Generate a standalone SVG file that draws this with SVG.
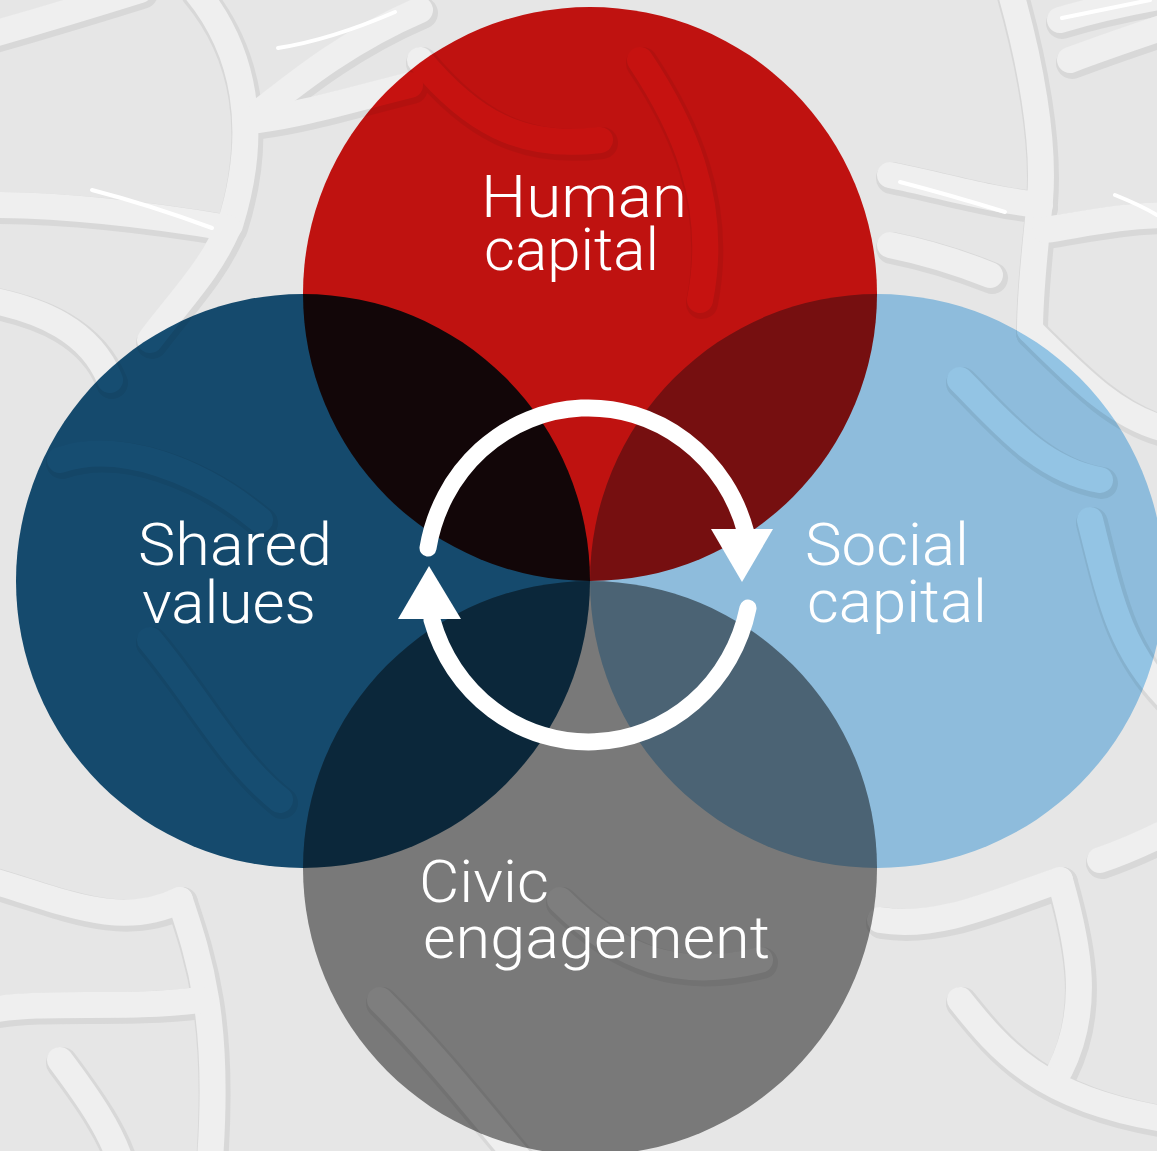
<svg xmlns="http://www.w3.org/2000/svg" width="1157" height="1151" viewBox="0 0 1157 1151">
  <defs>
    <style>
      .ridge-sh { fill: none; stroke: #d8d8d8; stroke-width: 32; stroke-linecap: round; stroke-linejoin: round; }
      .ridge { fill: none; stroke: #efefef; stroke-width: 26; stroke-linecap: round; stroke-linejoin: round; }
      .gloss { fill: none; stroke: #ffffff; stroke-width: 4; stroke-linecap: round; }
      .disc { mix-blend-mode: multiply; }
      .label { font-family: Roboto, "Liberation Sans", sans-serif; font-size: 60px; font-weight: 300; fill: #ffffff; }
      .ring { fill: none; stroke: #ffffff; stroke-width: 17; stroke-linecap: round; }
      .head { fill: #ffffff; }
    </style>
    <g id="ridges">
      <!-- top left -->
      <path d="M -10 35 Q 60 15 140 -10"/>
      <path d="M 195 -10 C 245 50 260 130 230 225"/>
      <path d="M -10 205 C 60 205 150 215 228 228"/>
      <path d="M 228 228 C 210 270 180 300 150 340"/>
      <path d="M 262 110 C 300 80 350 40 420 10"/>
      <path d="M 258 120 C 300 115 350 100 410 85"/>
      <path d="M -10 300 C 40 310 90 330 110 380"/>
      <!-- top right -->
      <path d="M 1010 -10 C 1030 60 1045 140 1040 200 C 1035 250 1030 290 1030 330"/>
      <path d="M 1060 20 Q 1110 5 1170 -5"/>
      <path d="M 1070 60 Q 1110 45 1170 25"/>
      <path d="M 890 175 C 940 185 990 200 1040 205"/>
      <path d="M 1045 230 C 1080 225 1120 215 1170 215"/>
      <path d="M 890 245 Q 940 255 990 275"/>
      <!-- middle band -->
      <path d="M 960 380 C 1000 420 1040 470 1100 480"/>
      <path d="M 1030 330 C 1080 380 1120 420 1170 430"/>
      <path d="M 1090 520 C 1110 600 1120 650 1170 700"/>
      <path d="M 60 460 C 120 440 200 470 260 520"/>
      <path d="M 150 640 C 200 700 230 760 280 800"/>
      <path d="M 420 60 C 470 120 520 150 600 140"/>
      <path d="M 640 60 C 680 120 720 200 700 300"/>
      <path d="M 560 900 C 620 960 680 980 760 960"/>
      <path d="M 380 1000 C 430 1050 470 1100 520 1160"/>
      <!-- bottom left -->
      <path d="M -10 880 C 60 900 120 930 180 900"/>
      <path d="M 180 900 C 200 960 220 1020 210 1160"/>
      <path d="M -10 1010 C 50 1000 120 1010 200 1000"/>
      <path d="M 60 1060 C 90 1100 110 1130 120 1160"/>
      <!-- bottom right -->
      <path d="M 880 920 C 940 930 1000 900 1060 880"/>
      <path d="M 1060 880 C 1080 950 1090 1010 1060 1070"/>
      <path d="M 960 1000 C 1000 1050 1040 1100 1170 1120"/>
      <path d="M 1100 860 C 1130 850 1150 840 1170 830"/>
    </g>
  </defs>

  <!-- textured backdrop -->
  <rect width="1157" height="1151" fill="#e6e6e6"/>
  <use href="#ridges" class="ridge-sh" transform="translate(2 3)"/>
  <use href="#ridges" class="ridge"/>
  <g class="gloss">
    <path d="M 92 190 Q 150 205 212 228"/>
    <path d="M 278 48 Q 330 40 395 12"/>
    <path d="M 1062 18 Q 1110 8 1150 0"/>
    <path d="M 900 182 Q 950 195 1005 212"/>
    <path d="M 1115 195 Q 1140 205 1157 215"/>
  </g>

  <!-- nodes -->
  <g id="node-human-capital">
    <circle class="disc" cx="590" cy="294" r="287" fill="#d41311"/>
    <text class="label"><tspan x="481" y="217" textLength="206" lengthAdjust="spacingAndGlyphs">Human</tspan><tspan x="484" y="270" textLength="175" lengthAdjust="spacingAndGlyphs">capital</tspan></text>
  </g>
  <g id="node-shared-values">
    <circle class="disc" cx="303" cy="581" r="287" fill="#175279"/>
    <text class="label"><tspan x="138" y="565" textLength="194" lengthAdjust="spacingAndGlyphs">Shared</tspan><tspan x="142" y="623" textLength="174" lengthAdjust="spacingAndGlyphs">values</tspan></text>
  </g>
  <g id="node-social-capital">
    <circle class="disc" cx="877" cy="581" r="287" fill="#9dd1f4"/>
    <text class="label"><tspan x="805" y="565" textLength="164" lengthAdjust="spacingAndGlyphs">Social</tspan><tspan x="807" y="622" textLength="180" lengthAdjust="spacingAndGlyphs">capital</tspan></text>
  </g>
  <g id="node-civic-engagement">
    <circle class="disc" cx="590" cy="868" r="287" fill="#868686"/>
    <text class="label"><tspan x="419" y="902" textLength="130" lengthAdjust="spacingAndGlyphs">Civic</tspan><tspan x="423" y="958" textLength="347" lengthAdjust="spacingAndGlyphs">engagement</tspan></text>
  </g>

  <!-- cycle arrows -->
  <g id="connectors">
    <path class="ring" d="M 428 548 A 163 169 0 0 1 746 533"/>
    <polygon class="head" points="711,529 773,529 742,582"/>
    <path class="ring" d="M 748 608 A 163 169 0 0 1 432 620"/>
    <polygon class="head" points="398,619 461,619 429,566"/>
  </g>
</svg>
